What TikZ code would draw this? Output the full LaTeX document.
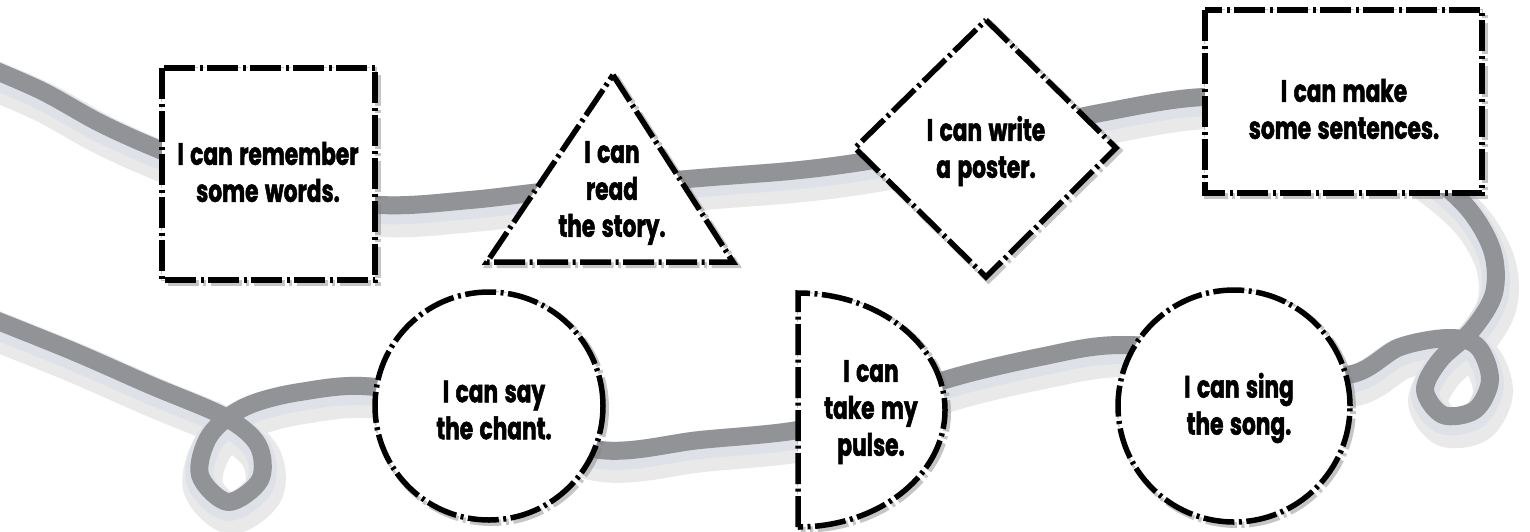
\documentclass[tikz,border=0pt]{standalone}
\usepackage{fontspec}
\newfontfamily\lab{Poppins}[FakeStretch=0.70, FakeBold=1.6, WordSpace=1.4]
\begin{document}
\begin{tikzpicture}[x=1pt,y=-1pt,
  outl/.style={line width=5.5pt, dash pattern=on 31pt off 4.5pt on 3pt off 4.5pt, line join=miter, draw=black, fill=white},
  shad/.style={line width=7pt, draw=black!50, opacity=0.45, dash pattern=on 31pt off 4.5pt on 3pt off 4.5pt, xshift=2.5pt, yshift=-2.5pt},
  lbl/.style={font=\lab\bfseries\fontsize{31}{37}\selectfont, align=center, text=black, inner sep=0pt},
  rshadow/.style={line width=40pt, draw=black!12, opacity=0.7, line cap=round, line join=round},
  rlight/.style={line width=28pt, draw={rgb,255:red,222;green,226;blue,232}, line cap=round, line join=round},
  rdark/.style={line width=18pt, draw={rgb,255:red,145;green,147;blue,151}, line cap=round, line join=round}
]
\useasboundingbox (0,0) rectangle (1530,531);
\fill[white] (0,0) rectangle (1530,531);

% ribbon
\def\ribbon{plot[smooth, tension=0.55] coordinates {(-30,65) (40,95) (100,128) (160,155) (260,195) (380,210) (470,205) (560,195) (700,183) (790,176) (855,168) (930,155) (1010,138) (1100,118) (1205,102) (1320,110) (1410,165) (1465,210) (1492,255) (1494,298) (1472,335) (1440,365) (1425,395) (1443,420) (1475,415) (1490,385) (1478,352) (1450,343) (1400,352) (1345,380) (1240,360) (1120,350) (1040,362) (945,385) (870,415) (798,435) (700,445) (600,455) (490,420) (375,392) (300,397) (245,412) (210,440) (200,480) (228,507) (260,485) (258,450) (225,422) (150,390) (70,355) (-30,315)}}
\draw[rshadow, xshift=3pt, yshift=-7pt] \ribbon;
\draw[rlight] \ribbon;
\draw[rdark, yshift=5pt] \ribbon;

% shadows of shapes
\draw[shad] (162,68) rectangle (375,280);
\draw[shad] (613,75) -- (733,262) -- (487,262) -- cycle;
\draw[shad] (986,20) -- (1116,148) -- (986,277) -- (855,148) -- cycle;
\draw[shad] (1205,10) rectangle (1482,193);
\draw[shad] (489,406) circle[radius=114pt];
\draw[shad] (798,527) -- (798,293) .. controls (879.2,293) and (945,345.4) .. (945,410) .. controls (945,474.6) and (879.2,527) .. (798,527);
\draw[shad] (1234,406) circle[radius=116pt];

% shapes
\draw[outl] (162,68) rectangle (375,280);
\draw[outl] (613,75) -- (733,262) -- (487,262) -- cycle;
\draw[outl] (986,20) -- (1116,148) -- (986,277) -- (855,148) -- cycle;
\draw[outl] (1205,10) rectangle (1482,193);
\draw[outl] (489,406) circle[radius=114pt];
\draw[outl] (798,527) -- (798,293) .. controls (879.2,293) and (945,345.4) .. (945,410) .. controls (945,474.6) and (879.2,527) .. (798,527);
\draw[outl] (1234,406) circle[radius=116pt];

% labels
\node[lbl] (t1) at (268,172) {I can remember\\some words.};
\node[lbl] (t2) at (612,193) {I can\\read\\the story.};
\node[lbl] (t3) at (986,151) {I can write\\a poster.};
\node[lbl] (t4) at (1344,109) {I can make\\some sentences.};
\node[lbl] (t5) at (494,410) {I can say\\the chant.};
\node[lbl] (t6) at (871,412) {I can\\take my\\pulse.};
\node[lbl] (t7) at (1239,408) {I can sing\\the song.};
\end{tikzpicture}
\end{document}
